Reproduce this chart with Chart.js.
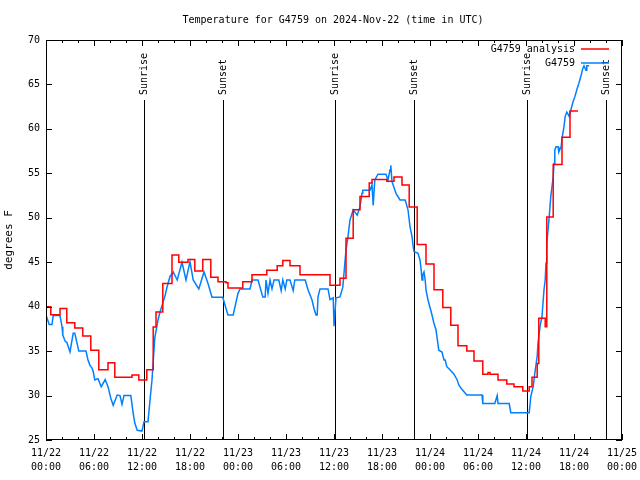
<!DOCTYPE html>
<html><head><meta charset="utf-8">
<script src="https://cdn.jsdelivr.net/npm/chart.js@4"></script>
<style>html,body{margin:0;padding:0;background:#fff}canvas{display:block}</style>
</head><body>
<canvas id="c" width="640" height="480"></canvas>
<script>
// Hours since 2024-11-22 00:00 UTC
const redHours = [0.0,0.6,1.75,2.6,3.6,4.6,5.6,6.6,7.75,8.6,10.75,11.6,12.6,13.4,13.75,14.6,15.75,16.6,17.75,18.6,19.6,20.6,21.5,22.5,22.75,24.6,25.75,27.6,28.9,29.6,30.5,31.75,35.5,36.75,37.5,38.4,39.25,40.4,40.75,42.6,43.5,44.5,45.4,46.4,47.5,48.5,49.6,50.6,51.5,52.6,53.5,54.6,55.25,55.5,56.5,57.6,58.5,59.6,60.4,60.75,61.4,61.6,62.4,62.6,63.4,64.5,65.5,66.5];
const redTemps = [40.0,39.1,39.8,38.2,37.6,36.7,35.1,32.9,33.7,32.05,32.3,31.75,32.9,37.7,39.4,42.6,45.8,45.0,45.3,44.0,45.3,43.3,42.8,42.7,42.1,42.8,43.6,44.1,44.6,45.2,44.6,43.6,42.4,43.2,47.7,50.9,52.4,53.9,54.3,54.1,54.6,53.7,51.2,47.0,44.8,41.9,39.9,37.9,35.6,35.0,33.9,32.4,32.6,32.4,31.75,31.3,31.0,30.5,31.0,32.05,33.6,38.7,37.75,50.1,56.0,59.05,62.0,62.0];

const blueHours = [0,0.4,0.75,0.9,1.75,2.0,2.1,2.4,2.6,3.0,3.4,3.6,4.1,5.0,5.25,5.5,5.75,5.9,6.1,6.5,6.9,7.4,7.75,8.1,8.4,8.9,9.25,9.5,9.75,10.6,10.9,11.1,11.4,12.0,12.25,12.75,13.0,13.25,13.6,14.0,14.25,14.6,14.9,15.1,15.5,15.9,16.4,17.0,17.5,18.0,18.4,19.1,19.75,20.25,20.75,22.1,22.5,22.75,23.4,24.0,24.25,25.5,25.75,26.5,27.1,27.4,27.5,27.75,28.0,28.25,28.5,29.1,29.4,29.6,29.9,30.1,30.5,30.9,31.1,31.75,32.4,32.75,33.25,33.5,33.75,33.9,34.0,34.25,35.25,35.5,35.9,36.0,36.25,36.75,37.1,37.5,37.75,38.0,38.4,38.9,39.25,39.5,39.6,40.5,40.75,40.9,41.1,41.5,42.5,42.75,43.0,43.1,43.25,43.75,44.25,44.9,45.25,45.5,45.75,45.9,46.0,46.5,46.75,46.9,47.0,47.1,47.25,47.4,47.5,47.75,48.0,48.25,48.5,48.75,48.9,49.1,49.5,49.75,49.9,50.1,50.5,51.0,51.4,51.6,51.9,52.6,54.5,54.6,56.1,56.4,56.5,57.9,58.1,60.4,60.6,60.9,61.1,61.4,61.5,61.75,62.0,62.25,62.4,62.5,62.6,62.75,62.9,63.1,63.4,63.5,63.6,63.75,64.0,64.1,64.4,64.5,64.75,64.9,65.1,65.4,65.6,65.9,66.1,66.4,66.6,66.9,67.1,67.25,67.5,67.6,67.9];
const blueTemps = [39.06,38.0,38.0,39.0,39.0,37.75,36.8,36.1,36.0,34.9,37.0,37.0,35.0,35.0,34.0,33.4,33.1,32.7,31.75,31.9,31.0,31.8,31.0,29.7,28.9,30.06,30.0,29.0,30.0,30.0,28.0,26.9,26.1,26.0,27.06,27.06,29.5,31.75,36.5,38.5,39.4,40.4,41.3,42.1,43.4,43.9,43.0,45.0,43.0,45.06,43.0,42.0,43.9,42.6,41.05,41.05,39.8,39.06,39.06,41.5,42.0,42.0,43.0,43.0,41.1,41.1,43.0,41.5,43.0,42.0,43.0,43.0,41.8,43.0,42.0,43.0,43.0,41.8,43.0,43.0,43.0,41.9,40.75,39.8,39.06,39.06,41.1,42.0,42.0,40.8,41.0,37.8,41.0,41.1,42.2,46.4,47.9,49.75,50.9,50.3,51.25,52.75,53.1,53.1,53.7,51.4,54.25,54.9,54.9,54.25,55.4,55.9,54.06,52.75,52.0,52.0,50.9,49.0,47.9,46.75,46.2,46.0,45.25,44.1,43.0,43.6,43.9,43.0,41.9,40.75,39.9,39.06,38.1,37.4,36.4,35.1,34.9,34.0,34.0,33.25,32.9,32.4,31.75,31.2,30.8,30.06,30.06,29.1,29.1,30.0,29.1,29.1,28.07,28.07,29.9,31.0,32.5,34.4,35.9,37.75,38.9,41.9,43.0,44.9,47.1,48.6,50.1,52.4,54.6,56.1,57.6,58.0,58.0,57.4,58.0,58.9,60.25,61.4,61.9,61.4,62.1,63.1,63.6,64.55,65.1,66.06,66.8,67.1,66.6,67.1,67.1];

const sunHours = [12.25, 22.1, 36.1, 46.0, 60.1, 70.0];
const sunLabels = ['Sunrise','Sunset','Sunrise','Sunset','Sunrise','Sunset'];

const xTickDates = ['11/22','11/22','11/22','11/22','11/23','11/23','11/23','11/23','11/24','11/24','11/24','11/24','11/25'];
const xTickTimes = ['00:00','06:00','12:00','18:00','00:00','06:00','12:00','18:00','00:00','06:00','12:00','18:00','00:00'];

const seriesNames = ['G4759 analysis','G4759'];
const seriesColors = ['#ff0000','#0080ff'];
const titleText = 'Temperature for G4759 on 2024-Nov-22 (time in UTC)';

const FONT = "'DejaVu Sans Mono', monospace";

const decor = {
  id: 'decor',
  beforeDatasetsDraw(chart) {
    const {ctx, chartArea: a, scales: {x}} = chart;
    ctx.save();
    ctx.strokeStyle = '#000';
    ctx.lineWidth = 1;
    sunHours.forEach(h => {
      const px = Math.round(x.getPixelForValue(h)) + 0.5;
      ctx.beginPath();
      ctx.moveTo(px, a.top + 60);
      ctx.lineTo(px, a.bottom);
      ctx.stroke();
    });
    ctx.restore();
  },
  afterDraw(chart) {
    const {ctx, chartArea: a, scales: {x, y}} = chart;
    ctx.save();
    // title
    ctx.fillStyle = '#000';
    ctx.font = '10px ' + FONT;
    ctx.textAlign = 'center';
    ctx.textBaseline = 'middle';
    ctx.fillText(titleText, (a.left + a.right) / 2 - 1, 20);
    ctx.strokeStyle = '#000';
    ctx.lineWidth = 1;
    // border
    ctx.strokeRect(a.left + 0.5, a.top + 0.5, a.right - a.left - 1, a.bottom - a.top - 1);
    // x ticks (major every 6h, minor every 2h), mirrored top
    ctx.beginPath();
    for (let h = 0; h <= 72; h += 2) {
      const px = Math.round(x.getPixelForValue(h)) + 0.5;
      const len = (h % 6 === 0) ? 6 : 3;
      ctx.moveTo(px, a.bottom); ctx.lineTo(px, a.bottom - len);
      ctx.moveTo(px, a.top); ctx.lineTo(px, a.top + len);
    }
    for (let v = 25; v <= 70; v += 5) {
      const py = Math.round(y.getPixelForValue(v)) + 0.5;
      ctx.moveTo(a.left, py); ctx.lineTo(a.left + 6, py);
      ctx.moveTo(a.right, py); ctx.lineTo(a.right - 6, py);
    }
    ctx.stroke();
    // sun labels
    ctx.fillStyle = '#000';
    sunHours.forEach((h, i) => {
      const px = Math.round(x.getPixelForValue(h)) + 0.5;
      ctx.save();
      ctx.translate(px, a.top + 55);
      ctx.rotate(-Math.PI / 2);
      ctx.textAlign = 'left';
      ctx.textBaseline = 'middle';
      ctx.fillText(sunLabels[i], 0, 0);
      ctx.restore();
    });
    // legend
    ctx.textAlign = 'right';
    ctx.textBaseline = 'middle';
    seriesNames.forEach((n, i) => {
      const ly = a.top + 9 + i * 14;
      ctx.fillStyle = '#000';
      ctx.fillText(n, a.right - 47, ly);
      ctx.strokeStyle = seriesColors[i];
      ctx.lineWidth = 1.5;
      ctx.beginPath();
      ctx.moveTo(a.right - 41, ly);
      ctx.lineTo(a.right - 13, ly);
      ctx.stroke();
    });
    ctx.restore();
  }
};

new Chart(document.getElementById('c'), {
  type: 'line',
  data: {
    datasets: [
      {label: seriesNames[0], data: redHours.map((h, i) => ({x: h, y: redTemps[i]})), borderColor: seriesColors[0], borderWidth: 1.5, stepped: true, pointRadius: 0, fill: false},
      {label: seriesNames[1], data: blueHours.map((h, i) => ({x: h, y: blueTemps[i]})), borderColor: seriesColors[1], borderWidth: 1.5, pointRadius: 0, tension: 0, fill: false}
    ]
  },
  options: {
    responsive: false, animation: false, devicePixelRatio: 1,
    layout: {padding: {left: 0, right: 18, top: 40, bottom: 0}},
    plugins: {
      legend: {display: false},
      tooltip: {enabled: false},
      title: {display: false}
    },
    scales: {
      x: {
        type: 'linear', min: 0, max: 72,
        grid: {display: false, drawTicks: false}, border: {display: false},
        ticks: {stepSize: 6, autoSkip: false, maxRotation: 0, padding: 6, color: '#000',
          font: {family: FONT, size: 10, lineHeight: 1.4},
          callback: (v) => { const i = Math.round(v / 6); return [xTickDates[i], xTickTimes[i]]; }},
        afterFit: (s) => { s.height = 40; s.paddingLeft = 0; s.paddingRight = 0; }
      },
      y: {
        min: 25, max: 70,
        grid: {display: false, drawTicks: false}, border: {display: false},
        ticks: {stepSize: 5, padding: 6, color: '#000', font: {family: FONT, size: 10}},
        title: {display: true, text: 'degrees F', color: '#000', font: {family: FONT, size: 11}, padding: {top: 3, bottom: 0}},
        afterFit: (s) => { s.width = 46; s.paddingTop = 0; s.paddingBottom = 0; }
      }
    }
  },
  plugins: [decor]
});
</script>
</body></html>
